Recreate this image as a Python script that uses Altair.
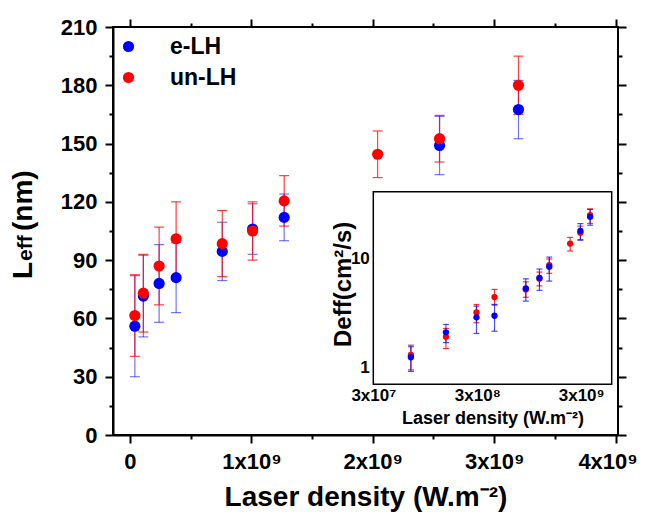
import altair as alt
import pandas as pd

FONT = "Liberation Sans"
BLUE = "#0000ff"
RED = "#ff0000"

# ---------------- main panel data (laser density in 1e9 W.m-2) ----------------
series = ["e-LH", "un-LH"]
blue_x = [0.04, 0.11, 0.24, 0.38, 0.76, 1.01, 1.27, 2.55, 3.20]
blue_y = [56.0, 71.5, 78.0, 81.0, 94.5, 106.0, 112.0, 149.0, 167.5]
blue_err = [26, 21, 20, 18, 15, 13, 12, 15, 15]
red_x = [0.04, 0.11, 0.24, 0.38, 0.76, 1.01, 1.27, 2.04, 2.55, 3.20]
red_y = [61.5, 73.0, 87.0, 101.0, 98.5, 105.0, 120.5, 144.5, 152.5, 180.0]
red_err = [21, 20, 20, 19, 17, 15, 13, 12, 12, 15]

# ---------------- inset data ----------------
in_blue_x = [6.9e7, 1.5e8, 2.95e8, 4.4e8, 8.8e8, 1.19e9, 1.48e9, 2.95e9, 3.66e9]
in_blue_y = [1.24, 2.10, 2.88, 2.98, 5.3, 6.64, 8.4, 17.9, 24.1]
in_blue_lo = [0.92, 1.69, 2.05, 2.15, 4.06, 5.1, 6.2, 14.7, 20.2]
in_blue_hi = [1.55, 2.48, 3.65, 3.79, 6.5, 8.0, 10.3, 20.9, 28.2]
in_red_x = [6.9e7, 1.5e8, 2.95e8, 4.4e8, 8.8e8, 1.19e9, 1.48e9, 2.35e9, 2.95e9, 3.66e9]
in_red_y = [1.30, 1.91, 3.2, 4.42, 5.2, 6.5, 8.7, 13.7, 17.2, 25.0]
in_red_lo = [0.95, 1.49, 2.57, 3.73, 4.4, 5.6, 7.3, 11.7, 14.9, 21.0]
in_red_hi = [1.60, 2.28, 3.78, 5.2, 6.1, 7.5, 9.9, 15.6, 19.8, 28.5]

# tick values
main_x_ticks = [i * 500000000 for i in range(9)]
main_y_ticks = list(range(0, 211, 15))
in_x_ticks = [k * 3 * 10 ** n for n in (7, 8) for k in range(1, 10)] + [3 * 10 ** 9]
in_y_ticks = [0.8, 0.9] + list(range(1, 10)) + [10, 20, 30, 40]

# ---------------- frames ----------------
def mk(xs, ys, errs, name):
    return pd.DataFrame({
        "x": [v * 1e9 for v in xs],
        "y": ys,
        "lo": [y - e for y, e in zip(ys, errs)],
        "hi": [y + e for y, e in zip(ys, errs)],
        "series": name,
    })

mb = mk(blue_x, blue_y, blue_err, series[0])
mr = mk(red_x, red_y, red_err, series[1])
mpts = pd.concat([mb, mr], ignore_index=True)

ib = pd.DataFrame({"x": in_blue_x, "y": in_blue_y, "lo": in_blue_lo, "hi": in_blue_hi})
ir = pd.DataFrame({"x": in_red_x, "y": in_red_y, "lo": in_red_lo, "hi": in_red_hi})

W, H = 505, 408

def cond(test, a, b):
    return {"condition": {"test": test, "value": a}, "value": b}

# ---------------- main panel ----------------
xs_main = alt.Scale(domain=[-0.14e9, 4.02e9], nice=False, zero=False)
ys_main = alt.Scale(domain=[0, 210], nice=False, zero=False)

XMAJ = "datum.value % 1000000000 === 0"
YMAJ = "datum.value % 30 === 0"

x_axis_main = alt.Axis(
    values=main_x_ticks,
    labelExpr="datum.value === 0 ? '0' : (datum.value % 1000000000 === 0 ? format(datum.value / 1000000000, 'd') + 'x10⁹' : '')",
    tickSize=cond(XMAJ, 8, 4),
    labelOffset=cond("datum.value === 4000000000", -8, 0),
    tickWidth=2, tickColor="black", domainColor="black", domainWidth=2,
    labelFont=FONT, labelFontSize=22, labelFontWeight="bold", labelColor="black",
    labelPadding=8, labelFlush=False, labelOverlap=False, labelBound=False, grid=False,
    title="Laser density (W.m⁻²)", titleFont=FONT, titleFontSize=28,
    titleFontWeight="bold", titleColor="black", titlePadding=11,
)
y_axis_main = alt.Axis(
    values=main_y_ticks,
    labelExpr="datum.value % 30 === 0 ? datum.label : ''",
    tickSize=cond(YMAJ, 8, 4),
    tickWidth=2, tickColor="black", domainColor="black", domainWidth=2,
    labelFont=FONT, labelFontSize=22, labelFontWeight="bold", labelColor="black",
    labelPadding=8, labelFlush=False, labelOverlap=False, grid=False, title=None,
)

X = alt.X("x:Q", scale=xs_main, axis=x_axis_main)
def Ym(f):
    return alt.Y(f, scale=ys_main, axis=y_axis_main)

layers = []
for df, col, op in ((mb, BLUE, 0.55), (mr, RED, 0.75)):
    layers.append(alt.Chart(df).mark_rule(color=col, opacity=op, strokeWidth=1.2)
                  .encode(x=X, y=Ym("lo:Q"), y2="hi:Q"))
    for f in ("lo:Q", "hi:Q"):
        layers.append(alt.Chart(df).mark_tick(color=col, opacity=op, orient="horizontal",
                                              size=10, thickness=1.2)
                      .encode(x=X, y=Ym(f)))

pts = alt.Chart(mpts).mark_circle(size=125, opacity=1).encode(
    x=X, y=Ym("y:Q"),
    color=alt.Color("series:N", scale=alt.Scale(domain=series, range=[BLUE, RED]),
                    legend=alt.Legend(
                        title=None, orient="none", legendX=4, legendY=8,
                        labelFont=FONT, labelFontSize=23, labelFontWeight="bold",
                        labelColor="black", symbolType="circle", symbolSize=125,
                        symbolStrokeWidth=0, symbolOpacity=1, rowPadding=7,
                        labelOffset=30, padding=0)),
)
layers.append(pts)

one = pd.DataFrame({"k": [0]})
ytitle = [
    ("L", 28, -81, 252),
    ("eff", 21, -81, 234),
    ("(nm)", 28, -81, 204),
]
for txt, fs, xx, yy in ytitle:
    layers.append(alt.Chart(one).mark_text(
        text=txt, font=FONT, fontSize=fs, fontWeight="bold", color="black",
        angle=270, align="left", baseline="alphabetic")
        .encode(x=alt.value(xx), y=alt.value(yy)))

main = alt.layer(*layers)

# ---------------- mirror ticks (top / right) ----------------
mirror = alt.Chart(mpts).mark_point(opacity=0).encode(
    x=alt.X("x:Q", scale=xs_main, axis=alt.Axis(
        orient="top", values=main_x_ticks, labels=False, domain=False, grid=False,
        tickSize=cond(XMAJ, 8, 4), tickWidth=2, tickColor="black", title=None)),
    y=alt.Y("y:Q", scale=ys_main, axis=alt.Axis(
        orient="right", values=main_y_ticks, labels=False, domain=False, grid=False,
        tickSize=cond(YMAJ, 8, 4), tickWidth=2, tickColor="black", title=None)),
)

# ---------------- inset panel ----------------
IX0, IX1, IY0, IY1 = 260.3, 498.7, 357.3, 164.7
TK = 4
xs_in = alt.Scale(type="log", domain=[3e7, 5.9e9], range=[IX0, IX1], nice=False)
ys_in = alt.Scale(type="log", domain=[0.7, 41], range=[IY0, IY1], nice=False)

x_axis_in = alt.Axis(
    orient="bottom", offset=(IY0 - TK) - H, values=in_x_ticks,
    labelExpr="datum.value === 30000000 ? '3x10⁷' : (datum.value === 300000000 ? '3x10⁸' : (datum.value === 3000000000 ? '3x10⁹' : ''))",
    tickSize=TK, tickWidth=1, tickColor="black", domain=False,
    labelFont=FONT, labelFontSize=17, labelFontWeight="bold", labelColor="black",
    labelPadding=3, labelFlush=False, labelOverlap=False, grid=False,
    title="Laser density (W.m⁻²)", titleFont=FONT, titleFontSize=18,
    titleFontWeight="bold", titleColor="black", titlePadding=6,
)
y_axis_in = alt.Axis(
    orient="left", offset=-(IX0 + TK), values=in_y_ticks,
    labelExpr="datum.value === 1 ? '1' : (datum.value === 10 ? '10' : '')",
    tickSize=TK, tickWidth=1, tickColor="black", domain=False,
    labelFont=FONT, labelFontSize=17, labelFontWeight="bold", labelColor="black",
    labelPadding=4, labelFlush=False, labelOverlap=False, grid=False, title=None,
)

XI = alt.X("x:Q", scale=xs_in, axis=x_axis_in)
def Yi(f):
    return alt.Y(f, scale=ys_in, axis=y_axis_in)

frame_df = pd.DataFrame({"x": [3e7], "x2": [5.9e9], "y": [0.7], "y2": [41]})
ilayers = [alt.Chart(frame_df).mark_rect(fill="white", stroke="black", strokeWidth=1.5)
           .encode(x=XI, x2="x2:Q", y=Yi("y:Q"), y2="y2:Q")]
for df, col, op in ((ir, RED, 0.8), (ib, BLUE, 0.7)):
    ilayers.append(alt.Chart(df).mark_rule(color=col, opacity=op, strokeWidth=1.2)
                   .encode(x=XI, y=Yi("lo:Q"), y2="hi:Q"))
    for f in ("lo:Q", "hi:Q"):
        ilayers.append(alt.Chart(df).mark_tick(color=col, opacity=op, orient="horizontal",
                                               size=6, thickness=1.2)
                       .encode(x=XI, y=Yi(f)))
for df, col in ((ir, RED), (ib, BLUE)):
    ilayers.append(alt.Chart(df).mark_circle(size=40, opacity=1, color=col)
                   .encode(x=XI, y=Yi("y:Q")))

inset_ytitle = alt.Chart(one).mark_text(
    text="Deff(cm²/s)", font=FONT, fontSize=24, fontWeight="bold", color="black",
    angle=270, align="left", baseline="alphabetic").encode(x=alt.value(238), y=alt.value(320))
ilayers.append(inset_ytitle)

inset = alt.layer(*ilayers)

chart = (
    alt.layer(main, mirror, inset)
    .resolve_scale(x="independent", y="independent")
    .properties(width=W, height=H,
                autosize=alt.AutoSizeParams(type="none"),
                padding={"left": 105, "top": 19, "right": 23, "bottom": 79},
                background="white")
    .configure_view(stroke="black", strokeWidth=2)
)

chart.save("out.html", embed_options={"renderer": "svg", "actions": False})
